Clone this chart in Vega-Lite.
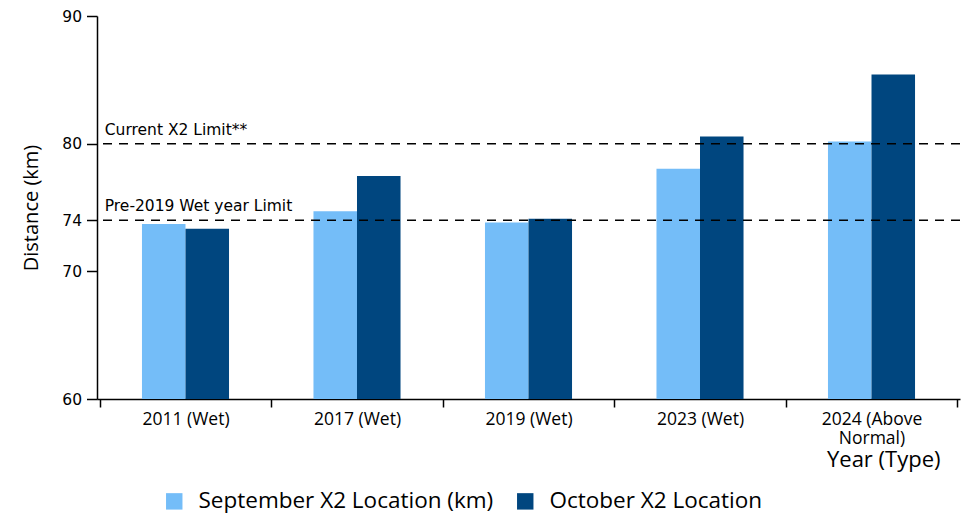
{
  "$schema": "https://vega.github.io/schema/vega-lite/v6.json",
  "width": 863,
  "height": 383,
  "autosize": "none",
  "padding": {"left": 97, "top": 16, "right": 9, "bottom": 117},
  "background": "white",
  "config": {"view": {"stroke": null}},
  "data": {
    "values": [
      {"Year": "2011 (Wet)", "Series": "September X2 Location (km)", "Value": 73.7},
      {"Year": "2011 (Wet)", "Series": "October X2 Location", "Value": 73.33},
      {"Year": "2017 (Wet)", "Series": "September X2 Location (km)", "Value": 74.7},
      {"Year": "2017 (Wet)", "Series": "October X2 Location", "Value": 77.46},
      {"Year": "2019 (Wet)", "Series": "September X2 Location (km)", "Value": 73.83},
      {"Year": "2019 (Wet)", "Series": "October X2 Location", "Value": 74.12},
      {"Year": "2023 (Wet)", "Series": "September X2 Location (km)", "Value": 78.03},
      {"Year": "2023 (Wet)", "Series": "October X2 Location", "Value": 80.56},
      {"Year": "2024 (Above Normal)", "Series": "September X2 Location (km)", "Value": 80.17},
      {"Year": "2024 (Above Normal)", "Series": "October X2 Location", "Value": 85.42}
    ]
  },
  "layer": [
    {
      "mark": {"type": "bar"},
      "encoding": {
        "x": {
          "field": "Year", "type": "nominal", "sort": null,
          "scale": {"paddingInner": 0, "paddingOuter": 0.016},
          "axis": {
            "title": "Year (Type)",
            "titleFont": "Open Sans", "titleFontSize": 22, "titleFontWeight": "normal", "titleColor": "black",
            "titleAnchor": "end", "titleAlign": "right", "titleX": 843, "titleY": 67, "titleBaseline": "alphabetic",
            "labelAngle": 0, "labelFont": "Open Sans", "labelFontSize": 17.5, "labelColor": "black",
            "labelPadding": 3, "tickSize": 8, "tickColor": "black", "domainColor": "black",
            "tickBand": "extent", "tickWidth": 1.5, "domainWidth": 1.5,
            "labelExpr": "datum.label == '2024 (Above Normal)' ? ['2024 (Above', 'Normal)'] : datum.label",
            "labelLineHeight": 19
          }
        },
        "xOffset": {"field": "Series", "type": "nominal", "sort": ["September X2 Location (km)", "October X2 Location"],
          "scale": {"paddingInner": 0, "paddingOuter": 0.97}},
        "y": {
          "field": "Value", "type": "quantitative",
          "scale": {"domain": [60, 90], "nice": false, "zero": false},
          "axis": {
            "values": [60, 70, 74, 80, 90], "grid": false,
            "title": "Distance (km)", "titleFont": "Open Sans", "titleFontSize": 20, "titleFontWeight": "normal", "titleColor": "black",
            "titlePadding": 20,
            "labelFont": "DejaVu Sans", "labelFontSize": 15.5, "labelColor": "black", "labelPadding": 5,
            "tickSize": 10.5, "tickColor": "black", "domainColor": "black", "tickWidth": 1.5, "domainWidth": 1.5
          }
        },
        "y2": {"datum": 60},
        "color": {
          "field": "Series", "type": "nominal",
          "scale": {"domain": ["September X2 Location (km)", "October X2 Location"], "range": ["#74BDF8", "#00467F"]},
          "legend": {
            "title": null, "orient": "none", "direction": "horizontal",
            "legendX": 66, "legendY": 474,
            "symbolType": "square", "symbolSize": 270, "symbolStrokeWidth": 0,
            "labelFont": "Open Sans", "labelFontSize": 22.5, "labelColor": "black", "labelLimit": 500,
            "columnPadding": 20, "labelOffset": 13
          }
        }
      }
    },
    {
      "data": {"values": [
        {"Limit": "Current X2 Limit**", "Level": 80},
        {"Limit": "Pre-2019 Wet year Limit", "Level": 74}
      ]},
      "layer": [
        {
          "mark": {"type": "rule", "strokeDash": [9, 7], "strokeWidth": 1.5, "color": "black"},
          "encoding": {"y": {"field": "Level", "type": "quantitative"}}
        },
        {
          "mark": {"type": "text", "align": "left", "baseline": "bottom", "dx": 5, "dy": -6, "font": "DejaVu Sans", "fontSize": 15.5, "color": "black"},
          "encoding": {
            "x": {"datum": "2011 (Wet)", "type": "nominal", "bandPosition": 0},
            "y": {"field": "Level", "type": "quantitative"},
            "text": {"field": "Limit"}
          }
        }
      ]
    }
  ]
}
